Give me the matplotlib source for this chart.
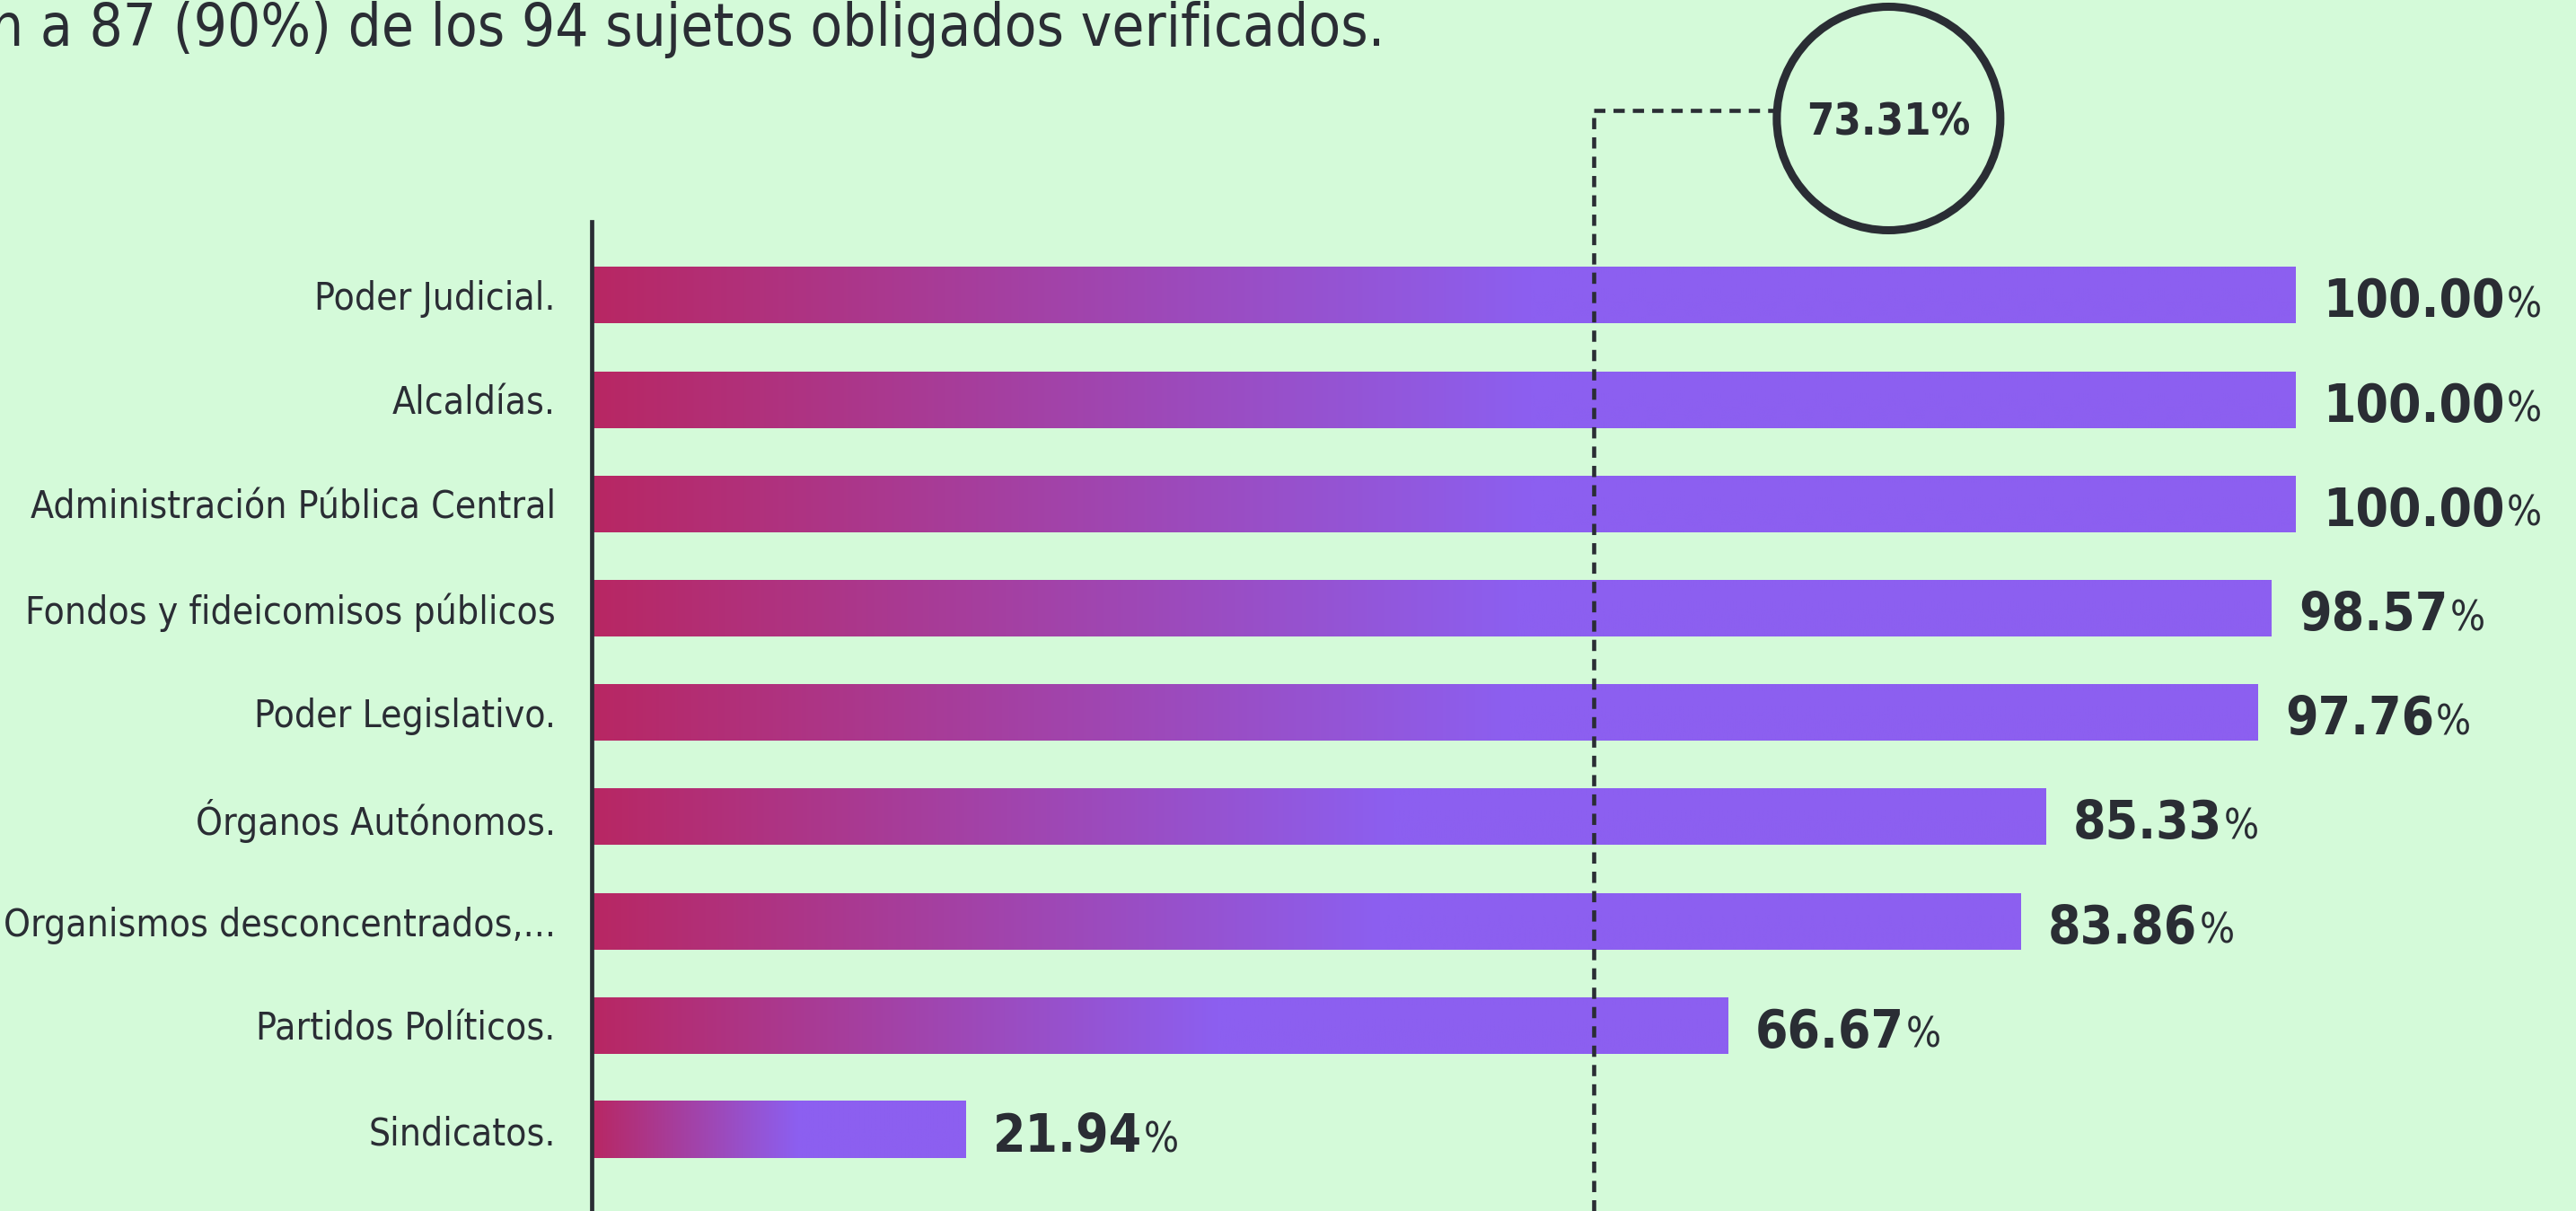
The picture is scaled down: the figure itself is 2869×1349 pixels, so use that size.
import numpy as np
import matplotlib
matplotlib.use("Agg")
from matplotlib import pyplot as plt
from matplotlib.patches import Ellipse

categorias = [
    "Poder Judicial.",
    "Alcaldías.",
    "Administración Pública Central",
    "Fondos y fideicomisos públicos",
    "Poder Legislativo.",
    "Órganos Autónomos.",
    "Organismos desconcentrados,...",
    "Partidos Políticos.",
    "Sindicatos.",
]
porcentajes = [100.00, 100.00, 100.00, 98.57, 97.76, 85.33, 83.86, 66.67, 21.94]
promedio = 73.31
linea_guia_x = 58.8   # where the dashed guide sits in the picture
circulo_x = 76.1      # where the circled average sits in the picture
subtitulo = "n a 87 (90%) de los 94 sujetos obligados verificados."

FONDO = "#D4FAD9"
TINTA = "#2A2D34"
ROJO = np.array([0xB8, 0x27, 0x63]) / 255
MORADO = np.array([0x8C, 0x5F, 0xF0]) / 255

plt.rcParams["font.family"] = ["DejaVu Sans"]
plt.rcParams["font.stretch"] = "condensed"
plt.rcParams["lines.scale_dashes"] = False

W, H = 2869, 1349
fig = plt.figure(figsize=(W / 100, H / 100), dpi=100, facecolor=FONDO)
x0 = 659 / W
ax = fig.add_axes([x0, 0, 1 - x0, 1])
ax.set_facecolor(FONDO)

px100 = 1898   # pixels for 100 %
paso = 116.2   # pixels between bars
alto = 63 / paso

# gradient bars
t = np.linspace(0, 1, 400)
m = np.clip(t / 0.55, 0, 1)[:, None]
grad = (ROJO * (1 - m) + MORADO * m)[None, :, :]
for i, v in enumerate(porcentajes):
    ax.imshow(grad, extent=(0, v, i + alto / 2, i - alto / 2),
              aspect="auto", interpolation="bilinear", zorder=2)

xmax = 100 * (W - 659) / px100
y_arriba = -329 / paso
y_abajo = y_arriba + H / paso
ax.set_xlim(0, xmax)
ax.set_ylim(y_abajo, y_arriba)

for s in ["top", "right", "bottom"]:
    ax.spines[s].set_visible(False)
ax.spines["left"].set_color(TINTA)
ax.spines["left"].set_linewidth(3.4)
ax.spines["left"].set_bounds((247 - 329) / paso, y_abajo)

ax.set_xticks([])
ax.set_yticks(range(len(categorias)))
ax.set_yticklabels(categorias, fontsize=30.5, color=TINTA)
ax.tick_params(axis="y", length=0, pad=29)

# value labels: big number, smaller %
nums = []
for i, v in enumerate(porcentajes):
    txt = ax.text(v + 1.6, i + 0.21, f"{v:.2f}", fontsize=42,
                  fontweight="bold", color=TINTA, va="baseline", ha="left")
    nums.append(txt)
fig.canvas.draw()
for i, txt in enumerate(nums):
    bb = txt.get_window_extent()
    xd = ax.transData.inverted().transform((bb.x1 + 2, 0))[0]
    ax.text(xd, i + 0.21, "%", fontsize=33, color=TINTA,
            va="baseline", ha="left")

# average marker
y_h = (123 - 329) / paso
yc = (132 - 329) / paso
ancho_c = 249 / px100 * 100
alto_c = 249 / paso
ax.plot([linea_guia_x, linea_guia_x], [y_abajo, y_h], color=TINTA, lw=3.3,
        dashes=(9, 6.5), clip_on=False, zorder=3)
ax.plot([linea_guia_x, circulo_x - ancho_c / 2], [y_h, y_h], color=TINTA,
        lw=3.3, dashes=(9, 6.5), clip_on=False, zorder=3)
ax.add_patch(Ellipse((circulo_x, yc), ancho_c, alto_c, fill=False,
                     ec=TINTA, lw=6.5, clip_on=False))
ax.text(circulo_x, yc + 0.04, f"{promedio:.2f}%", ha="center", va="center",
        fontsize=35, fontweight="bold", color=TINTA)

fig.text(-0.004, 1 - 51 / H, subtitulo, fontsize=47, color=TINTA,
         va="baseline", ha="left")

fig.savefig("out.png", dpi=100, facecolor=FONDO)
